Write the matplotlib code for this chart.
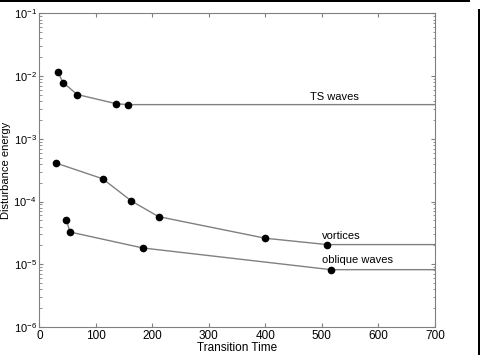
import matplotlib
matplotlib.use('Agg')
import matplotlib.pyplot as plt
from matplotlib.patches import Rectangle

# data
ts_x = [33, 42, 67, 136, 156, 700]
ts_y = [0.0115, 0.0079, 0.0051, 0.00364, 0.00352, 0.00352]
vort_x = [30, 112, 163, 211, 400, 509, 700]
vort_y = [0.00041, 0.000231, 0.000102, 5.75e-5, 2.6e-5, 2.06e-5, 2.06e-5]
obl_x = [48, 54, 183, 516, 700]
obl_y = [5.15e-5, 3.27e-5, 1.82e-5, 8.2e-6, 8.2e-6]

plt.rcParams['font.family'] = ['Liberation Sans', 'DejaVu Sans']

fig = plt.figure(figsize=(4.8, 3.55), dpi=100)
ax = fig.add_axes([0.082, 0.079, 0.824, 0.883])

for xs, ys in [(ts_x, ts_y), (vort_x, vort_y), (obl_x, obl_y)]:
    ax.plot(xs, ys, color='#808080', lw=1.0, zorder=1)
    ax.plot(xs[:-1], ys[:-1], 'o', color='black', ms=4.5, zorder=2)

ax.set_yscale('log')
ax.set_xlim(0, 700)
ax.set_ylim(1e-6, 1e-1)
ax.set_xticks(range(0, 701, 100))
ax.set_xlabel('Transition Time', fontsize=8.5, labelpad=0)
ax.set_ylabel('Disturbance energy', fontsize=8)
ax.yaxis.set_label_coords(-0.071, 0.5)
ax.tick_params(which='both', direction='in', top=True, right=True,
               labelsize=8.5, color='#808080', pad=2)
ax.tick_params(axis='y', labelsize=8)
ax.tick_params(which='major', length=3)
ax.tick_params(which='minor', length=1.8)
for s in ax.spines.values():
    s.set_color('#808080')
    s.set_linewidth(0.8)

ax.text(479, 0.0041, 'TS waves', fontsize=8)
ax.text(500, 2.5e-5, 'vortices', fontsize=8)
ax.text(500, 1.05e-5, 'oblique waves', fontsize=8)

# dark frame edges seen in the screenshot
fig.add_artist(Rectangle((0, 0.995), 0.98, 0.005, transform=fig.transFigure,
                         color='black', lw=0))
fig.add_artist(Rectangle((0.995, 0), 0.005, 0.975, transform=fig.transFigure,
                         color='black', lw=0))

fig.savefig('out.png', dpi=100)
